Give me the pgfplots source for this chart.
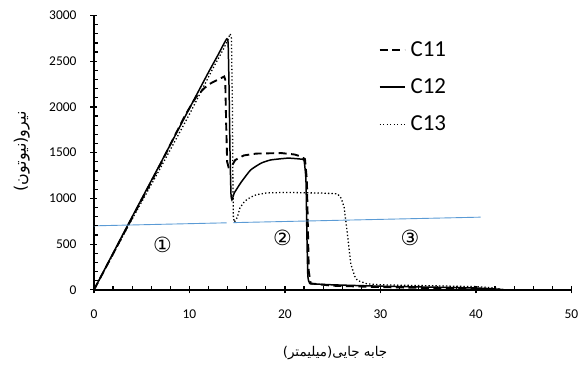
\documentclass[border=0pt]{standalone}
\usepackage{fontspec}
\setmainfont{Carlito}
\newfontfamily\farsi[Script=Arabic]{DejaVu Sans}
\newfontfamily\sym{DejaVu Sans}
\TeXXeTstate=1
\usepackage{pgfplots}
\pgfplotsset{compat=1.18}
\definecolor{lineblue}{RGB}{91,155,213}
\begin{document}
\begin{tikzpicture}
\begin{axis}[
  at={(0,0)}, anchor=south west,
  scale only axis, width=477.7bp, height=274.5bp,
  xmin=0, xmax=50, ymin=0, ymax=3000,
  clip=false, unbounded coords=jump,
  axis x line*=bottom, axis y line*=left,
  axis line style={line width=1.4pt},
  xtick={0,10,20,30,40,50}, ytick={0,500,1000,1500,2000,2500,3000},
  minor x tick num=0, minor y tick num=0,
  major tick length=0pt,
  tick label style={font=\fontsize{13.5}{14}\selectfont},
  /pgf/number format/assume math mode=true,
  /pgf/number format/1000 sep={},
  yticklabel style={xshift=-14bp},
  xticklabel style={yshift=-16bp},
  xlabel={\farsi\fontsize{13.5}{15}\selectfont\beginR جابه جایی(میلیمتر)\endR},
  ylabel={\farsi\fontsize{16}{18}\selectfont\beginR نیرو(نیوتون)\endR},
  xlabel style={at={(axis description cs:0.505,-0.23)}, anchor=center},
  ylabel style={at={(axis description cs:-0.151,0.505)}, anchor=center},
  legend style={draw=none, fill=none, at={(axis cs:29.8,2740)}, anchor=north west,
    font=\fontsize{23}{25}\selectfont, row sep=17bp, inner sep=0pt, cells={anchor=west}},
  legend image code/.code={\draw[#1] (0bp,0bp) -- (25bp,0bp); \path (28bp,0bp);},
]
\addplot[black, line width=1.9pt, dash pattern=on 8bp off 4.5bp] coordinates {
(0,0) (3.5,690) (7,1380) (9.5,1900) (10.7,2110) (11.5,2200) (12.06,2249) (13,2300) (13.64,2333)
(13.75,2300) (13.85,1800) (13.95,1400) (14.1,1340) (14.4,1350) (14.8,1420) (15.7,1470) (17,1490)
(19.6,1496) (21,1480) (21.65,1460) (22.1,1430) (22.3,1200) (22.4,700) (22.5,200) (22.7,70)
(25,45) (30,30) (35,20) (40,10) (42,0)};
\addlegendentry{C11}
\addplot[black, line width=1.5pt, smooth, tension=0.3] coordinates {
(0,0) (3.5,700) (7,1390) (10,1985) (12,2380) (13,2570) (13.6,2690) (13.92,2745) (14.05,2700)
(14.15,2200) (14.25,1500) (14.35,1050) (14.45,985) (14.7,1060) (15.0,1110) (15.4,1175) (16.4,1310) (17.5,1385)
(18.5,1420) (20.3,1440) (21.65,1430) (22.0,1415) (22.2,1200) (22.3,600) (22.4,150) (22.6,70)
(23,65) (25,55) (30,40) (35,30) (40,20) (42,10) (43,0)};
\addlegendentry{C12}
\addplot[black, line width=1.3pt, dash pattern=on 1.3bp off 2.2bp] coordinates {
(0,0) (3.5,680) (7,1340) (10,1920) (12.5,2430) (13.5,2620) (14.0,2730) (14.27,2800) (14.4,2750)
(14.5,2000) (14.55,1200) (14.6,800) (14.7,740) (15.0,790) (15.3,900) (15.8,970) (16.4,1013)
(17,1040) (18.1,1060) (20,1065) (22,1062) (24,1058) (25.5,1050) (25.9,1000) (26.2,903) (26.5,648)
(26.9,284) (27.3,150) (27.6,102) (28.6,66) (30,55) (35,45) (40,35) (42,20) (43,0)};
\addlegendentry{C13}
\addplot[lineblue, line width=0.9pt, forget plot] coordinates {(0,700) (13.9,733)};
\addplot[lineblue, line width=0.9pt, forget plot] coordinates {(14.6,735) (40.5,795)};
% x axis ticks: major across the axis, minor on the inside
\addplot[black, line width=1.2pt, forget plot] coordinates {
(0,-38) (0,38) (nan,nan) (10,-38) (10,38) (nan,nan) (20,-38) (20,38) (nan,nan)
(30,-38) (30,38) (nan,nan) (40,-38) (40,38) (nan,nan) (50,-38) (50,38)};
\addplot[black, line width=1.2pt, forget plot] coordinates {
(2,0) (2,44) (nan,nan) (4,0) (4,44) (nan,nan) (6,0) (6,44) (nan,nan) (8,0) (8,44) (nan,nan)
(12,0) (12,44) (nan,nan) (14,0) (14,44) (nan,nan) (16,0) (16,44) (nan,nan) (18,0) (18,44) (nan,nan)
(22,0) (22,44) (nan,nan) (24,0) (24,44) (nan,nan) (26,0) (26,44) (nan,nan) (28,0) (28,44) (nan,nan)
(32,0) (32,44) (nan,nan) (34,0) (34,44) (nan,nan) (36,0) (36,44) (nan,nan) (38,0) (38,44) (nan,nan)
(42,0) (42,44) (nan,nan) (44,0) (44,44) (nan,nan) (46,0) (46,44) (nan,nan) (48,0) (48,44)};
% y axis ticks
\addplot[black, line width=1.2pt, forget plot] coordinates {
(-0.37,0) (0.37,0) (nan,nan) (-0.37,500) (0.37,500) (nan,nan) (-0.37,1000) (0.37,1000) (nan,nan)
(-0.37,1500) (0.37,1500) (nan,nan) (-0.37,2000) (0.37,2000) (nan,nan) (-0.37,2500) (0.37,2500) (nan,nan)
(-0.37,3000) (0.37,3000)};
\addplot[black, line width=1.2pt, forget plot] coordinates {
(0,100) (0.42,100) (nan,nan) (0,200) (0.42,200) (nan,nan) (0,300) (0.42,300) (nan,nan) (0,400) (0.42,400) (nan,nan)
(0,600) (0.42,600) (nan,nan) (0,700) (0.42,700) (nan,nan) (0,800) (0.42,800) (nan,nan) (0,900) (0.42,900) (nan,nan)
(0,1100) (0.42,1100) (nan,nan) (0,1200) (0.42,1200) (nan,nan) (0,1300) (0.42,1300) (nan,nan) (0,1400) (0.42,1400) (nan,nan)
(0,1600) (0.42,1600) (nan,nan) (0,1700) (0.42,1700) (nan,nan) (0,1800) (0.42,1800) (nan,nan) (0,1900) (0.42,1900) (nan,nan)
(0,2100) (0.42,2100) (nan,nan) (0,2200) (0.42,2200) (nan,nan) (0,2300) (0.42,2300) (nan,nan) (0,2400) (0.42,2400) (nan,nan)
(0,2600) (0.42,2600) (nan,nan) (0,2700) (0.42,2700) (nan,nan) (0,2800) (0.42,2800) (nan,nan) (0,2900) (0.42,2900)};
\node[font=\sym\fontsize{21}{23}\selectfont] at (axis cs:7.19,488) {①};
\node[font=\sym\fontsize{21}{23}\selectfont] at (axis cs:19.75,565) {②};
\node[font=\sym\fontsize{21}{23}\selectfont] at (axis cs:33.1,565) {③};
\end{axis}
\pgfresetboundingbox
\path[use as bounding box] (-94bp,-75bp) rectangle (490.3bp,290bp);
\end{tikzpicture}
\end{document}
